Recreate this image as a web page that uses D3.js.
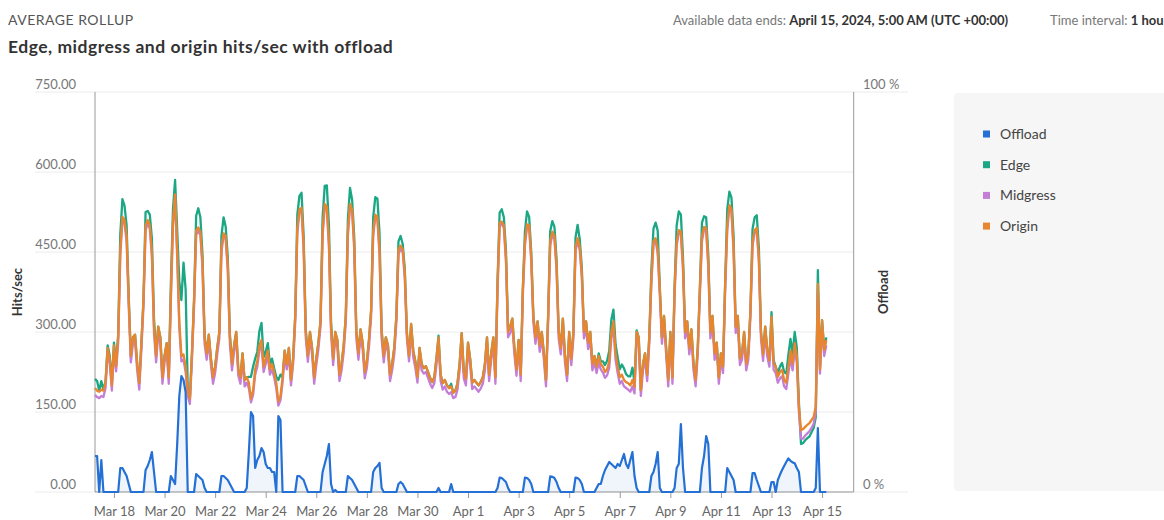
<!DOCTYPE html>
<html lang="en">
<head>
<meta charset="UTF-8">
<title>Edge, midgress and origin hits/sec with offload</title>
<script src="https://d3js.org/d3.v7.min.js"></script>
<style>
  body { margin: 0; background: #fff; font-family: Lato, "Noto Sans", sans-serif; }
  svg { display: block; }
</style>
</head>
<body>
<svg id="chart" width="1164" height="520"></svg>
<script>
// 2-hour samples starting Mar 17 06:00 UTC; one row per day (06:00 .. 04:00 next day)
const startTime = "2024-03-17T06:00:00Z";
const stepHours = 2;

const origin = [
  195, 190, 188, 192, 190, 205, 270, 250, 200, 275, 235, 290,
  455, 516, 510, 480, 360, 255, 290, 295, 241, 204, 279, 360,
  500, 510, 500, 450, 310, 255, 310, 290, 215, 255, 279, 215,
  370, 505, 558, 450, 320, 255, 258, 235, 190, 175, 260, 360,
  490, 496, 488, 430, 290, 260, 295, 250, 215, 235, 270, 300,
  460, 485, 480, 425, 290, 240, 275, 300, 230, 215, 260, 210,
  215, 205, 175, 190, 230, 245, 275, 285, 235, 250, 265, 230,
  240, 225, 205, 170, 180, 215, 265, 240, 270, 210, 250, 330,
  495, 530, 533, 465, 300, 255, 300, 270, 215, 250, 280, 320,
  490, 540, 535, 470, 310, 250, 300, 285, 220, 240, 275, 330,
  490, 540, 530, 465, 300, 260, 305, 280, 225, 245, 285, 340,
  490, 520, 515, 455, 300, 255, 290, 275, 220, 240, 270, 330,
  455, 462, 455, 410, 298, 255, 315, 265, 245, 216, 270, 240,
  232, 236, 225, 214, 206, 215, 250, 290, 220, 204, 210, 200,
  195, 198, 186, 190, 204, 240, 298, 225, 212, 280, 250, 205,
  210, 205, 200, 206, 215, 240, 290, 220, 260, 290, 215, 390,
  505, 507, 500, 440, 300, 310, 325, 270, 230, 285, 220, 380,
  470, 502, 500, 440, 330, 290, 320, 275, 300, 260, 210, 330,
  470, 488, 480, 425, 300, 270, 325, 255, 220, 300, 250, 300,
  460, 476, 460, 410, 300, 320, 280, 300, 240, 255, 235, 255,
  240, 235, 225, 230, 245, 300, 320, 260, 235, 215, 220, 210,
  206, 204, 200, 210, 197, 300, 290, 191, 240, 260, 220, 290,
  400, 470, 476, 455, 380, 290, 330, 270, 210, 300, 215, 380,
  470, 491, 488, 425, 300, 320, 270, 305, 240, 210, 270, 380,
  480, 497, 495, 430, 300, 330, 260, 280, 215, 260, 235, 390,
  500, 538, 530, 460, 310, 330, 250, 260, 300, 240, 260, 340,
  470, 491, 495, 440, 300, 258, 310, 266, 247, 329, 241, 235,
  216, 225, 229, 210, 205, 235, 265, 240, 279, 255, 160, 116,
  118, 122, 126, 129, 135, 141, 160, 390, 230, 322, 266, 285
];

const edge = [
  212, 208, 190, 208, 192, 207, 275, 255, 205, 280, 240, 295,
  483, 549, 537, 500, 367, 255, 290, 295, 241, 204, 279, 360,
  525, 527, 520, 475, 325, 255, 310, 290, 215, 255, 279, 215,
  390, 530, 585, 490, 395, 360, 430, 380, 195, 175, 260, 360,
  518, 532, 515, 445, 293, 260, 295, 250, 215, 235, 270, 300,
  480, 515, 498, 440, 296, 242, 275, 300, 230, 215, 260, 210,
  215, 216, 216, 235, 250, 263, 302, 317, 253, 263, 279, 240,
  250, 232, 216, 210, 220, 215, 265, 240, 270, 210, 250, 330,
  520, 555, 561, 480, 305, 255, 300, 270, 215, 250, 280, 320,
  515, 574, 575, 500, 320, 250, 300, 285, 220, 240, 275, 330,
  512, 570, 548, 478, 303, 260, 305, 280, 225, 245, 285, 340,
  515, 553, 550, 485, 305, 255, 290, 275, 220, 240, 270, 330,
  470, 480, 465, 418, 298, 255, 315, 265, 245, 216, 270, 240,
  232, 236, 225, 214, 206, 215, 250, 293, 220, 204, 210, 200,
  195, 203, 186, 190, 204, 240, 298, 225, 212, 280, 250, 205,
  210, 205, 200, 206, 215, 240, 290, 220, 260, 290, 215, 395,
  524, 530, 515, 452, 303, 310, 325, 270, 230, 285, 220, 380,
  488, 526, 516, 450, 330, 290, 320, 275, 300, 260, 210, 330,
  489, 508, 497, 437, 303, 270, 325, 255, 220, 300, 250, 300,
  477, 501, 474, 420, 300, 320, 280, 300, 240, 255, 237, 260,
  245, 245, 238, 246, 265, 323, 342, 277, 253, 230, 239, 232,
  221, 217, 217, 233, 205, 303, 290, 191, 240, 260, 220, 290,
  417, 494, 505, 490, 384, 290, 330, 270, 210, 300, 215, 384,
  500, 526, 520, 440, 300, 320, 270, 305, 240, 210, 270, 380,
  505, 517, 515, 445, 300, 330, 260, 280, 215, 260, 235, 390,
  530, 563, 552, 480, 310, 330, 250, 260, 300, 240, 260, 340,
  493, 515, 519, 458, 300, 258, 310, 266, 247, 337, 247, 235,
  223, 235, 242, 225, 222, 257, 287, 259, 300, 271, 168, 90,
  92, 97, 101, 104, 112, 120, 140, 416, 235, 322, 266, 290
];

const midgress = [
  182, 178, 176, 180, 178, 195, 262, 240, 190, 266, 226, 280,
  442, 510, 503, 470, 348, 243, 278, 283, 229, 192, 266, 348,
  490, 504, 494, 440, 298, 243, 298, 278, 203, 243, 267, 203,
  360, 500, 552, 440, 308, 245, 248, 225, 180, 165, 248, 348,
  482, 490, 482, 420, 278, 248, 283, 238, 203, 223, 258, 288,
  450, 480, 474, 415, 278, 228, 263, 288, 218, 203, 248, 198,
  205, 195, 168, 182, 220, 235, 265, 275, 225, 240, 255, 220,
  230, 215, 195, 162, 172, 205, 255, 230, 258, 200, 240, 318,
  485, 525, 528, 455, 290, 244, 288, 258, 203, 238, 268, 310,
  480, 535, 530, 460, 298, 238, 288, 272, 208, 228, 262, 318,
  480, 535, 525, 455, 288, 248, 292, 268, 213, 233, 272, 328,
  480, 515, 510, 445, 288, 243, 278, 263, 208, 228, 258, 318,
  445, 456, 450, 400, 288, 245, 303, 253, 233, 205, 258, 228,
  222, 225, 214, 203, 195, 204, 238, 278, 208, 192, 198, 188,
  184, 187, 176, 178, 192, 228, 285, 213, 200, 268, 238, 193,
  198, 193, 188, 194, 203, 228, 278, 208, 248, 278, 203, 378,
  498, 503, 495, 432, 290, 298, 313, 258, 218, 273, 208, 368,
  462, 497, 495, 432, 318, 278, 308, 263, 288, 248, 198, 318,
  462, 483, 474, 417, 288, 258, 313, 243, 208, 288, 238, 288,
  452, 471, 454, 402, 288, 308, 268, 288, 228, 243, 223, 243,
  230, 224, 214, 219, 233, 288, 308, 248, 223, 203, 208, 198,
  195, 192, 188, 198, 185, 288, 278, 180, 228, 248, 208, 278,
  392, 465, 471, 447, 370, 278, 318, 258, 198, 288, 203, 368,
  462, 486, 483, 417, 288, 308, 258, 293, 228, 198, 258, 368,
  470, 492, 490, 422, 288, 318, 248, 268, 203, 248, 223, 378,
  490, 533, 525, 452, 298, 318, 238, 248, 288, 228, 248, 328,
  462, 486, 490, 432, 288, 246, 298, 254, 235, 317, 229, 223,
  205, 213, 217, 198, 193, 222, 252, 228, 266, 243, 150, 100,
  100, 106, 110, 114, 120, 128, 150, 380, 222, 312, 255, 275
];

// percent, right axis
const offload = [
  9, 9, 0, 8, 0, 0, 0, 0, 0, 0, 0, 0,
  6, 6, 5, 4, 2, 0, 0, 0, 0, 0, 0, 0,
  5.5, 6.5, 8, 10, 5, 0, 0, 0, 0, 0, 0, 0,
  4, 3, 2, 12, 24, 29, 28, 25, 0, 0, 0, 0,
  4.5, 4, 3.5, 3, 1, 0, 0, 0, 0, 0, 0, 0,
  4, 4, 3.5, 3, 2, 1, 0, 0, 0, 0, 0, 0,
  1, 10, 20, 19, 6, 8, 9, 11, 10, 7, 6, 6,
  5, 5, 0, 19, 18, 0, 0, 0, 0, 0, 0, 0,
  4, 4, 3.5, 3, 1.5, 0, 0, 0, 0, 0, 0, 0,
  5, 7, 9, 12, 2, 0, 0.5, 0, 0, 0, 0, 0,
  4, 3.5, 3, 2, 1, 0, 0, 0, 0, 0, 0, 0,
  5, 6, 6.5, 7.3, 1, 0, 0, 0, 0, 0, 0, 0,
  2, 2.5, 2, 1, 0, 0, 0, 0, 0, 0, 0, 0,
  0, 0, 0, 0, 0, 0, 0, 1, 0, 0, 0, 0,
  0, 2, 0, 0, 0, 0, 0, 0, 0, 0, 0, 0,
  0, 0, 0, 0, 0, 0, 0, 0, 0, 0, 0, 1,
  3.6, 3.5, 3, 2.5, 1, 0, 0, 0, 0, 0, 0, 0,
  3.6, 3.5, 3, 2, 0, 0, 0, 0, 0, 0, 0, 0,
  3.9, 3.8, 3.5, 2.5, 1, 0, 0, 0, 0, 0, 0, 0,
  3.6, 3.5, 3, 2, 0, 0, 0, 0, 0, 0, 1, 2,
  2, 4, 5.5, 6.5, 7.5, 7, 6.5, 6, 7, 6.5, 8, 9.5,
  7, 6, 8, 10, 4, 1, 0, 0, 0, 0, 0, 0,
  4, 5, 7, 10, 1, 0, 0, 0, 0, 0, 0, 1,
  6, 7, 17, 6, 0, 0, 0, 0, 0, 0, 0, 0,
  6, 9, 14, 12, 0, 0, 0, 0, 0, 0, 0, 0,
  6, 5, 4, 3, 0, 0, 0, 0, 0, 0, 0, 0,
  4.7, 4.7, 3, 1.5, 0, 0, 0, 0, 0, 2.5, 2.5, 0,
  3, 4.3, 5.5, 6.5, 7.5, 8.4, 7.8, 7.4, 7.2, 6, 5, 0,
  0, 0, 0, 0, 0, 0, 1, 16, 0, 0, 0, 0
];

const yTicks = [0, 150, 300, 450, 600, 750];
const pctTicks = [0, 100];
const xTickDays = ["2024-03-18", "2024-03-20", "2024-03-22", "2024-03-24", "2024-03-26",
  "2024-03-28", "2024-03-30", "2024-04-01", "2024-04-03", "2024-04-05", "2024-04-07",
  "2024-04-09", "2024-04-11", "2024-04-13", "2024-04-15"];
const legendNames = ["Offload", "Edge", "Midgress", "Origin"];
const legendColors = ["#2470d4", "#1ba784", "#c47ed6", "#e8862f"];

const svg = d3.select("#chart");
const t0 = new Date(startTime);
const timeAt = i => new Date(t0.getTime() + i * stepHours * 3600e3);

const x = d3.scaleUtc()
  .domain([t0, new Date("2024-04-16T06:00:00Z")])
  .range([95, 853.7]);
const y = d3.scaleLinear().domain([0, 750]).range([492, 92]);
const yPct = d3.scaleLinear().domain([0, 100]).range([492, 92]);

// === HEADER ===
svg.append("text").attr("x", 8).attr("y", 25)
  .attr("font-size", 14).attr("letter-spacing", 0.5).attr("fill", "#555").text("AVERAGE ROLLUP");
svg.append("text").attr("x", 8).attr("y", 53)
  .attr("font-size", 17.5).attr("letter-spacing", 0.5).attr("font-weight", "bold").attr("fill", "#333")
  .text("Edge, midgress and origin hits/sec with offload");

const info = svg.append("text").attr("x", 673).attr("y", 25).attr("font-size", 13);
info.append("tspan").attr("fill", "#777").text("Available data ends: ");
info.append("tspan").attr("fill", "#333").attr("font-weight", "bold")
  .text("April 15, 2024, 5:00 AM (UTC +00:00)");
const interval = svg.append("text").attr("x", 1050).attr("y", 25).attr("font-size", 13);
interval.append("tspan").attr("fill", "#777").text("Time interval: ");
interval.append("tspan").attr("fill", "#333").attr("font-weight", "bold").text("1 hour");

// === LEGEND PANEL ===
svg.append("rect").attr("x", 954).attr("y", 93).attr("width", 214).attr("height", 398)
  .attr("rx", 3).attr("fill", "#f6f6f6");
const legend = svg.selectAll("g.legend").data(legendNames).enter().append("g")
  .attr("class", "legend")
  .attr("transform", (d, i) => `translate(983,${134 + i * 30.7})`);
legend.append("rect").attr("x", 0).attr("y", -3.5).attr("width", 7).attr("height", 7)
  .attr("fill", (d, i) => legendColors[i]);
legend.append("text").attr("x", 17).attr("y", 5).attr("font-size", 14)
  .attr("fill", "#444").text(d => d);

// === GRID + AXES ===
svg.selectAll("line.grid").data(yTicks).enter().append("line")
  .attr("class", "grid")
  .attr("x1", 35).attr("x2", 853.7)
  .attr("y1", d => y(d)).attr("y2", d => y(d))
  .attr("stroke", "#ececec");
svg.selectAll("line.pgrid").data(pctTicks).enter().append("line")
  .attr("class", "pgrid")
  .attr("x1", 853.7).attr("x2", 908)
  .attr("y1", d => yPct(d)).attr("y2", d => yPct(d))
  .attr("stroke", "#ececec");

svg.selectAll("text.ylab").data(yTicks).enter().append("text")
  .attr("class", "ylab")
  .attr("x", 76).attr("y", d => y(d) - 3)
  .attr("text-anchor", "end").attr("font-size", 13).attr("fill", "#777")
  .text(d3.format(".2f"));
svg.selectAll("text.plab").data(pctTicks).enter().append("text")
  .attr("class", "plab")
  .attr("x", 863).attr("y", d => yPct(d) - 3)
  .attr("font-size", 13).attr("fill", "#777")
  .text(d => d + " %");

const xAxis = svg.append("g").attr("transform", "translate(0,492)")
  .call(d3.axisBottom(x)
    .tickValues(xTickDays.map(d => new Date(d + "T00:00:00Z")))
    .tickFormat(d3.utcFormat("%b %-d"))
    .tickSize(6).tickSizeOuter(0));
xAxis.select(".domain").remove();
xAxis.selectAll(".tick line").attr("stroke", "#999");
xAxis.selectAll(".tick text").attr("y", 15).attr("fill", "#666")
  .attr("font-size", 13).attr("font-family", "Lato, 'Noto Sans', sans-serif");

svg.append("line").attr("x1", 95).attr("x2", 853.7).attr("y1", 492).attr("y2", 492)
  .attr("stroke", "#999");
svg.append("line").attr("x1", 95).attr("x2", 95).attr("y1", 92).attr("y2", 492)
  .attr("stroke", "#999");
svg.append("line").attr("x1", 853.7).attr("x2", 853.7).attr("y1", 92).attr("y2", 492)
  .attr("stroke", "#999");

svg.append("text").attr("transform", "translate(22,292) rotate(-90)")
  .attr("text-anchor", "middle").attr("font-size", 13).attr("font-weight", "bold")
  .attr("fill", "#333").text("Hits/sec");
svg.append("text").attr("transform", "translate(888,292) rotate(-90)")
  .attr("text-anchor", "middle").attr("font-size", 13).attr("font-weight", "bold")
  .attr("fill", "#333").text("Offload");

// === SERIES ===
const lineHits = d3.line().x((d, i) => x(timeAt(i))).y(d => y(d));
const linePct = d3.line().x((d, i) => x(timeAt(i))).y(d => yPct(d));
const areaPct = d3.area().x((d, i) => x(timeAt(i))).y0(492).y1(d => yPct(d));

[[edge, 1], [midgress, 2], [origin, 3]].forEach(([vals, c]) => {
  svg.append("path").datum(vals)
    .attr("d", lineHits)
    .attr("fill", "none")
    .attr("stroke", legendColors[c])
    .attr("stroke-width", 2.3)
    .attr("stroke-linejoin", "round");
});

svg.append("path").datum(offload).attr("d", areaPct)
  .attr("fill", legendColors[0]).attr("fill-opacity", 0.07);
svg.append("path").datum(offload).attr("d", linePct)
  .attr("fill", "none").attr("stroke", legendColors[0])
  .attr("stroke-width", 2.2).attr("stroke-linejoin", "round");
</script>
</body>
</html>
